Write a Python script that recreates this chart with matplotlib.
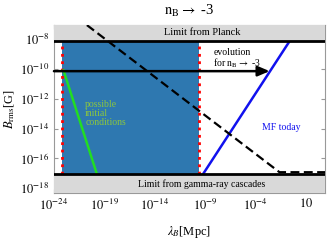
import numpy as np
import matplotlib
matplotlib.use("Agg")
import matplotlib.pyplot as plt

plt.rcParams['font.family'] = ['Liberation Serif', 'DejaVu Serif']
plt.rcParams['mathtext.fontset'] = 'stix'

# limits (log10 of B in Gauss)
planck_limit = -8.1
gamma_limit = -17.05

# initial-condition window (log10 of lambda in Mpc)
window_left = -23.2
window_right = -9.6

# lines as (log10 lambda, log10 B) endpoints
green_x = [-23.05, -19.1]
green_y = [-10.1, -18.4]
blue_x = [-10.5, -0.58]
blue_y = [-18.4, -8.1]
dashed_x = [-20.73, -1.62, 3.0]
dashed_y = [-7.06, -16.93, -16.93]
arrow_y = -10.15
arrow_x = [-24.0, -2.6]

xticks = [-24, -19, -14, -9, -4, 1]
xticklabels = ['$10^{-24}$', '$10^{-19}$', '$10^{-14}$', '$10^{-9}$', '$10^{-4}$', '$10$']
yticks = [-8, -10, -12, -14, -16, -18]
yticklabels = ['$10^{-8}$', '$10^{-10}$', '$10^{-12}$', '$10^{-14}$', '$10^{-16}$', '$10^{-18}$']

xlim = (-24, 2.9)
ylim = (-18.3, -7.06)

fig = plt.figure(figsize=(3.27, 2.46), dpi=100)
ax = fig.add_axes([0.165, 0.217, 0.829, 0.681])
ax.set_xscale('log')
ax.set_yscale('log')
ax.set_xlim(10 ** xlim[0], 10 ** xlim[1])
ax.set_ylim(10 ** ylim[0], 10 ** ylim[1])

p = lambda v: 10.0 ** np.asarray(v)

# blue window
ax.fill_between(p([window_left, window_right]), p(gamma_limit), p(planck_limit),
                color='#2e78b0', zorder=1, lw=0)
ax.plot(p([window_left, window_left]), p([gamma_limit, planck_limit]), color='red', ls=':', lw=2, zorder=2)
ax.plot(p([window_right, window_right]), p([gamma_limit, planck_limit]), color='red', ls=':', lw=2, zorder=2)

ax.plot(p(green_x), p(green_y), color='#22dd22', lw=1.8, zorder=2)
ax.plot(p(blue_x), p(blue_y), color='#1111ee', lw=1.8, zorder=2)

# gray limit boxes
ax.fill_between(p(list(xlim)), p(planck_limit), p(ylim[1]), color='#d9d9d9', zorder=3, lw=0)
ax.fill_between(p(list(xlim)), p(ylim[0]), p(gamma_limit), color='#d9d9d9', zorder=3, lw=0)
ax.axhline(p(planck_limit), color='black', lw=2, zorder=4)
ax.axhline(p(gamma_limit), color='black', lw=2, zorder=4)

ax.plot(p(dashed_x), p(dashed_y), color='black', ls=(0, (4, 2)), lw=1.6, zorder=5)

ax.annotate('', xy=(p(arrow_x[1]), p(arrow_y)), xytext=(p(arrow_x[0]), p(arrow_y)),
            arrowprops=dict(arrowstyle='-|>,head_length=0.7,head_width=0.3', color='black', lw=1.8,
                            shrinkA=0, shrinkB=0), zorder=5)

ax.text(p(-9.3), p(-7.55), 'Limit from Planck', ha='center', va='center', fontsize=7.5, zorder=6)
ax.text(p(-9.3), p(-17.7), 'Limit from gamma-ray cascades', ha='center', va='center', fontsize=7, zorder=6)
ax.text(p(-20.9), p(-13.0), 'possible\ninitial\nconditions', ha='left', va='center', fontsize=7,
        color='#8cc63f', linespacing=1.0, zorder=6)
ax.text(p(-8.2), p(-9.35), 'evolution\nfor $\\mathrm{n_B}\\rightarrow$ -3', ha='left', va='center',
        fontsize=7, linespacing=1.0, zorder=6)
ax.text(p(-3.4), p(-13.9), 'MF today', ha='left', va='center', fontsize=7, color='#1111ee', zorder=6)

ax.set_xticks(p(xticks))
ax.set_xticklabels(xticklabels, fontsize=9)
ax.set_yticks(p(yticks))
ax.set_yticklabels(yticklabels, fontsize=9)
ax.minorticks_off()
ax.tick_params(direction='in', length=3, color='#999999', top=True, right=True)
for s in ax.spines.values():
    s.set_color('#999999')
    s.set_linewidth(0.8)

ax.set_title('$\\mathrm{n_B}\\rightarrow$ -3', fontsize=10.5, pad=7)
ax.set_xlabel('$\\lambda_B$[Mpc]', fontsize=9, labelpad=8)
ax.set_ylabel('$B_{\\rm rms}$[G]', fontsize=9, labelpad=2)

fig.savefig('out.png', dpi=100)
